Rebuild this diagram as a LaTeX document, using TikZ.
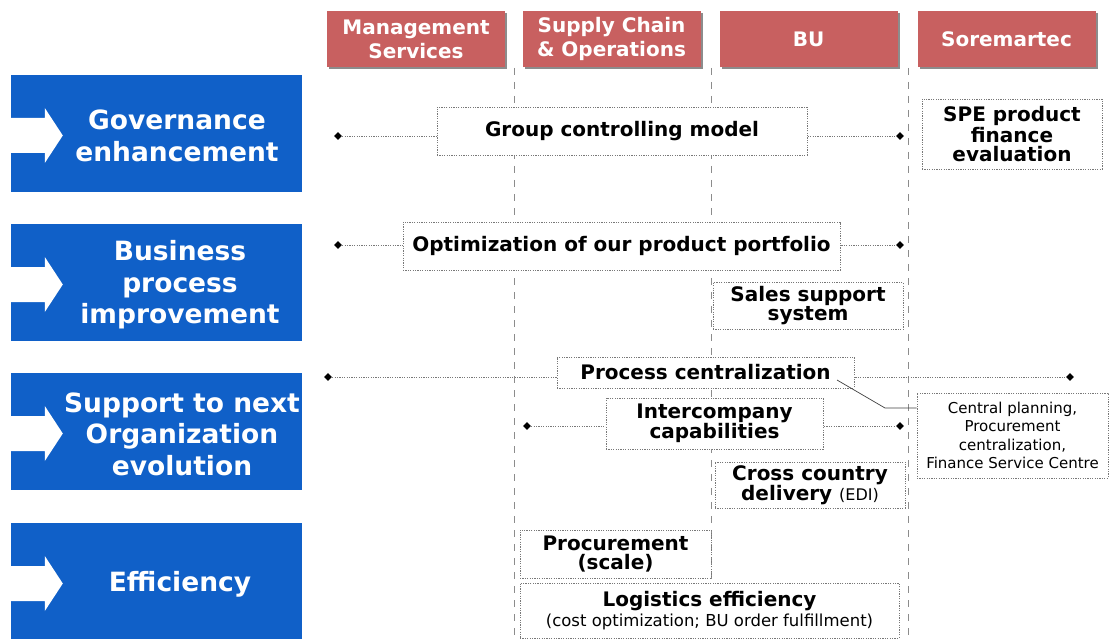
\documentclass[tikz,border=0pt]{standalone}
\usepackage{fontspec}
\setmainfont{DejaVu Sans}
\usetikzlibrary{shapes.geometric,shadows}
\definecolor{bluebox}{RGB}{16,96,200}
\definecolor{redhead}{RGB}{200,96,96}
\definecolor{shadowgray}{RGB}{140,140,140}
\definecolor{linegray}{RGB}{140,140,140}
\definecolor{dotgray}{RGB}{120,120,120}
\begin{document}
\begin{tikzpicture}[x=1pt,y=-1pt,
  bluerect/.style={fill=bluebox, minimum width=291pt, minimum height=117pt, inner sep=0pt},
  bluetext/.style={text=white, align=center, font=\bfseries\fontsize{26.5}{31.5}\selectfont},
  header/.style={fill=redhead, text=white, align=center, minimum width=178pt, minimum height=56pt, inner sep=0pt,
    font=\bfseries\fontsize{20}{24}\selectfont,
    drop shadow={shadow xshift=2pt, shadow yshift=-2pt, fill=shadowgray, opacity=1}},
  item/.style={draw=dotgray, fill=white, line width=0.8pt, dash pattern=on 1.2pt off 1.2pt,
    align=center, inner sep=0pt, font=\bfseries\fontsize{20}{19}\selectfont},
  small/.style={font=\mdseries\fontsize{15}{18.5}\selectfont},
  vline/.style={draw=linegray, line width=0.9pt, dash pattern=on 7pt off 7pt},
  conn/.style={draw=dotgray, line width=0.8pt, dash pattern=on 1.2pt off 1.2pt},
  dmd/.style={diamond, fill=black, inner sep=0pt, minimum size=8pt},
  warrow/.pic={\fill[white] (0,-15.5) -- ++(34,0) -- ++(0,-10) -- ++(18,27.5) -- ++(-18,27.5) -- ++(0,-10) -- ++(-34,0) -- cycle;}
]
\useasboundingbox (0,0) rectangle (1110,639);

% left blue boxes
\node[bluerect] (gov) at (156.5,133.5) {};
\node[bluerect] (bus) at (156.5,282.5) {};
\node[bluerect] (sup) at (156.5,431.5) {};
\node[bluerect] (eff) at (156.5,581.5) {};
\pic at (gov.west) {warrow};
\pic at (bus.west) {warrow};
\pic at (sup.west) {warrow};
\pic at (eff.west) {warrow};
\node[bluetext] (govt) at (177,136) {Governance\\enhancement};
\node[bluetext] (bust) at (180,285) {Business\\process\\improvement};
\node[bluetext] (supt) at (182,434) {Support to next\\Organization\\evolution};
\node[bluetext] (efft) at (180,584) {Efficiency};

% headers
\node[header] (h1) at (416,39) {Management\\Services};
\node[header] (h2) at (611.5,39) {Supply Chain\\\& Operations};
\node[header] (h3) at (808.5,39) {BU};
\node[header] (h4) at (1006.5,39) {Soremartec};

% vertical lines
\coordinate (v1t) at (514,68); \coordinate (v1b) at (514,639);
\coordinate (v2t) at (711,68); \coordinate (v2b) at (711,639);
\coordinate (v3t) at (908,68); \coordinate (v3b) at (908,639);
\draw[vline] (v1t) -- (v1b);
\draw[vline] (v2t) -- (v2b);
\draw[vline] (v3t) -- (v3b);

% diamonds
\node[dmd] (gL) at (338,136) {};
\node[dmd] (gR) at (900,136) {};
\node[dmd] (oL) at (338,245) {};
\node[dmd] (oR) at (900,245) {};
\node[dmd] (pL) at (328,377) {};
\node[dmd] (pR) at (1070,377) {};
\node[dmd] (iL) at (527,426) {};
\node[dmd] (iR) at (900,426) {};

% connectors (under boxes)
\draw[conn] (gL) -- (gR);
\draw[conn] (oL) -- (oR);
\draw[conn] (pL) -- (pR);
\draw[conn] (iL) -- (iR);

% items
\node[item, minimum width=370pt, minimum height=48pt] (gcm) at (622,131) {Group controlling model};
\node[item, minimum width=180pt, minimum height=70pt] (spe) at (1012,134) {SPE product\\finance\\evaluation};
\node[item, minimum width=437pt, minimum height=48pt] (opt) at (621.5,246) {Optimization of our product portfolio};
\node[item, minimum width=190pt, minimum height=47pt] (sal) at (808,306) {Sales support\\system};
\node[item, minimum width=297pt, minimum height=31pt] (pro) at (705.5,372.5) {Process centralization};
\node[item, minimum width=217pt, minimum height=51pt] (int) at (714.5,423.5) {Intercompany\\capabilities};
\node[item, minimum width=190pt, minimum height=46pt] (cro) at (810,485) {Cross country\\delivery {\mdseries\fontsize{16}{18}\selectfont (EDI)}};
\node[item, minimum width=191pt, minimum height=48pt] (prc) at (615.5,554) {Procurement\\(scale)};
\node[item, minimum width=379pt, minimum height=55pt, font=\bfseries\fontsize{20}{20}\selectfont] (log) at (709.5,610.5) {Logistics efficiency\\{\mdseries\fontsize{16.5}{17}\selectfont (cost optimization;\ BU order fulfillment)}};
\node[item, small, minimum width=191pt, minimum height=85pt] (cal) at (1012.5,435.5) {Central planning,\\Procurement\\centralization,\\Finance Service Centre};

% callout line
\coordinate (ca) at (837,380);
\coordinate (cb) at (885,408);
\draw[draw=black!75, line width=0.7pt] (ca) -- (cb) -- (cb -| cal.west);
\end{tikzpicture}
\end{document}
